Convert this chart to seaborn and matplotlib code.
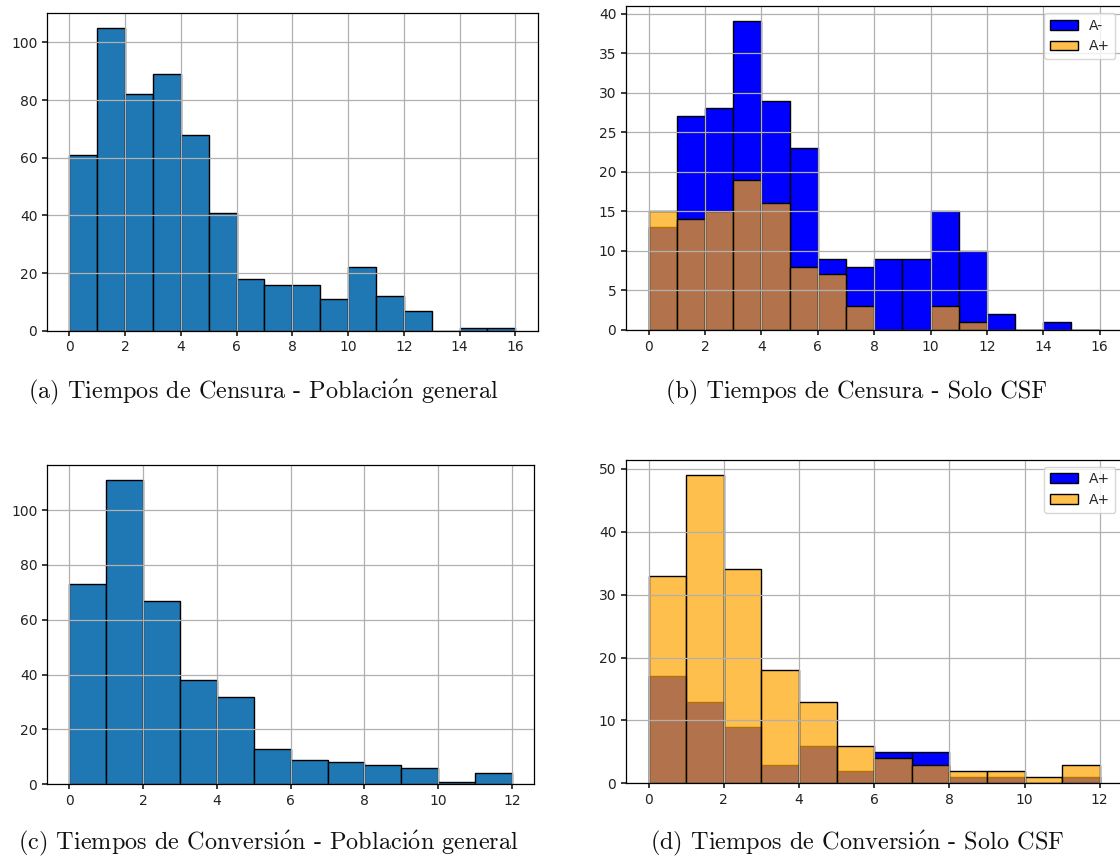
import numpy as np
import matplotlib
matplotlib.use("Agg")
import matplotlib.pyplot as plt
import seaborn as sns

# --- data: counts per 1-unit bin ---
censura_edges = list(range(0, 17))
censura_general = [61, 105, 82, 89, 68, 41, 18, 16, 16, 11, 22, 12, 7, 0, 1, 1]
censura_neg = [13, 27, 28, 39, 29, 23, 9, 8, 9, 9, 15, 10, 2, 0, 1, 0]
censura_pos = [15, 14, 15, 19, 16, 8, 7, 3, 0, 0, 3, 1, 0, 0, 0, 0]

conversion_edges = list(range(0, 13))
conversion_general = [73, 111, 67, 38, 32, 13, 9, 8, 7, 6, 1, 4]
conversion_blue = [17, 13, 9, 3, 6, 2, 5, 5, 1, 1, 0, 1]
conversion_orange = [33, 49, 34, 18, 13, 6, 4, 3, 2, 2, 1, 3]

captions = [
    r"(a) Tiempos de Censura - Poblaci$\mathrm{\acute{o}}$n general",
    "(b) Tiempos de Censura - Solo CSF",
    r"(c) Tiempos de Conversi$\mathrm{\acute{o}}$n - Poblaci$\mathrm{\acute{o}}$n general",
    r"(d) Tiempos de Conversi$\mathrm{\acute{o}}$n - Solo CSF",
]

sns.set_theme(style="ticks")
plt.rcParams.update({
    "font.family": ["DejaVu Sans"],
    "axes.edgecolor": "black",
    "axes.linewidth": 0.9,
    "axes.grid": True,
    "axes.axisbelow": "line",
    "grid.color": "#b0b0b0",
    "grid.linewidth": 0.9,
    "xtick.color": "#222222",
    "ytick.color": "#222222",
    "xtick.labelcolor": "#222222",
    "ytick.labelcolor": "#222222",
    "xtick.labelsize": 10,
    "ytick.labelsize": 10,
    "xtick.major.size": 3.5,
    "ytick.major.size": 3.5,
    "mathtext.fontset": "cm",
})

fig = plt.figure(figsize=(11.2, 8.59), dpi=100)
ax_a = fig.add_axes([0.042, 0.615, 0.438, 0.370])
ax_b = fig.add_axes([0.559, 0.616, 0.443, 0.377])
ax_c = fig.add_axes([0.042, 0.087, 0.435, 0.372])
ax_d = fig.add_axes([0.559, 0.088, 0.443, 0.377])


def hist(ax, edges, counts, **kw):
    centers = np.asarray(edges[:-1]) + 0.5
    sns.histplot(x=centers, weights=counts, bins=edges, ax=ax,
                 edgecolor="black", linewidth=1.0, **kw)


hist(ax_a, censura_edges, censura_general, color="#1f77b4", alpha=1.0)
hist(ax_b, censura_edges, censura_neg, color="blue", alpha=1.0, label="A-")
hist(ax_b, censura_edges, censura_pos, color="orange", alpha=0.7, label="A+")
hist(ax_c, conversion_edges, conversion_general, color="#1f77b4", alpha=1.0)
hist(ax_d, conversion_edges, conversion_blue, color="blue", alpha=1.0, label="A+")
hist(ax_d, conversion_edges, conversion_orange, color="orange", alpha=0.7, label="A+")

ax_a.set_yticks(range(0, 101, 20))
ax_b.set_yticks(range(0, 41, 5))
ax_c.set_yticks(range(0, 101, 20))
ax_d.set_yticks(range(0, 51, 10))
ax_a.set_xticks(range(0, 17, 2))
ax_b.set_xticks(range(0, 17, 2))
ax_c.set_xticks(range(0, 13, 2))
ax_d.set_xticks(range(0, 13, 2))

for ax in (ax_a, ax_b, ax_c, ax_d):
    ax.set_xlabel("")
    ax.set_ylabel("")
    for s in ax.spines.values():
        s.set_visible(True)
        s.set_color("black")

for ax in (ax_b, ax_d):
    ax.legend(loc="upper right", fontsize=10, framealpha=0.8)

cap_kw = dict(ha="center", va="center", fontsize=17.5, family="cmr10", color="#111111")
fig.text(263 / 1120, 1 - 392 / 859, captions[0], **cap_kw)
fig.text(857 / 1120, 1 - 392 / 859, captions[1], **cap_kw)
fig.text(268 / 1120, 1 - 843 / 859, captions[2], **cap_kw)
fig.text(857 / 1120, 1 - 843 / 859, captions[3], **cap_kw)

fig.savefig("out.png", dpi=100)
